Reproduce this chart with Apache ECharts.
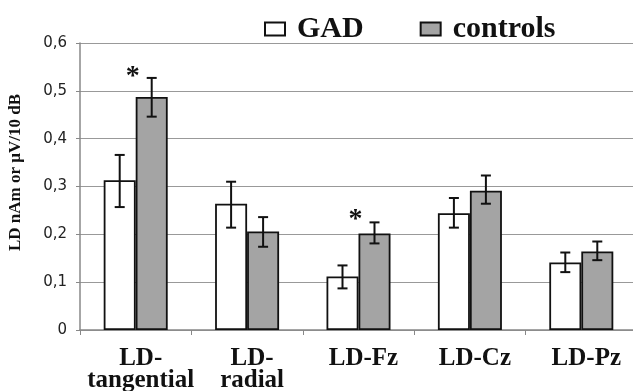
<!DOCTYPE html>
<html>
<head>
<meta charset="utf-8">
<script src="https://cdn.jsdelivr.net/npm/echarts@6/dist/echarts.min.js"></script>
<style>
  html, body { margin: 0; padding: 0; background: #fff; }
  #chart { width: 633px; height: 391px; }
</style>
</head>
<body>
<div id="chart"></div>
<script>
  // categories and values
  var categories = ['LD-\ntangential', 'LD-\nradial', 'LD-Fz', 'LD-Cz', 'LD-Pz'];
  var gadValues = [0.313, 0.264, 0.112, 0.244, 0.141];
  var gadLow = [0.257, 0.214, 0.087, 0.214, 0.121];
  var gadHigh = [0.366, 0.310, 0.135, 0.276, 0.162];
  var ctrlValues = [0.487, 0.206, 0.202, 0.291, 0.164];
  var ctrlLow = [0.446, 0.174, 0.181, 0.264, 0.146];
  var ctrlHigh = [0.527, 0.236, 0.225, 0.323, 0.185];
  // significance stars: [category index, height]
  var stars = [[0, 0.54], [2, 0.24]];
  var yTicks = [0, 0.1, 0.2, 0.3, 0.4, 0.5, 0.6];

  var serif = '"Liberation Serif", "Times New Roman", serif';
  var barW = 32;

  function errData(lo, hi) {
    return lo.map(function (v, i) { return [i, v, hi[i]]; });
  }

  function errRender(shift) {
    return function (params, api) {
      var i = api.value(0);
      var p1 = api.coord([i, api.value(1)]);
      var p2 = api.coord([i, api.value(2)]);
      var x = p1[0] + shift;
      var cap = 5;
      var st = { stroke: '#111', lineWidth: 2 };
      return {
        type: 'group',
        children: [
          { type: 'line', shape: { x1: x, y1: p1[1], x2: x, y2: p2[1] }, style: st },
          { type: 'line', shape: { x1: x - cap, y1: p1[1], x2: x + cap, y2: p1[1] }, style: st },
          { type: 'line', shape: { x1: x - cap, y1: p2[1], x2: x + cap, y2: p2[1] }, style: st }
        ]
      };
    };
  }

  var chart = echarts.init(document.getElementById('chart'));
  chart.setOption({
    backgroundColor: '#fff',
    animation: false,
    grid: { left: 80, top: 43, width: 557, bottom: 61, outerBoundsMode: 'none' },
    legend: {
      data: ['GAD', 'controls'],
      icon: 'rect',
      left: 259,
      top: 9,
      itemWidth: 20,
      itemHeight: 13,
      itemGap: 56,
      textStyle: {
        fontFamily: serif,
        fontWeight: 'bold',
        fontSize: 30,
        color: '#111',
        padding: [0, 0, 0, 7]
      }
    },
    xAxis: {
      type: 'category',
      data: categories,
      axisLine: { lineStyle: { color: '#888', width: 1.5 } },
      axisTick: { show: true, length: 5, lineStyle: { color: '#888' } },
      axisLabel: {
        interval: 0,
        margin: 18,
        fontFamily: serif,
        fontWeight: 'bold',
        fontSize: 25,
        lineHeight: 22,
        color: '#111',
        padding: [0, 0, 0, 10]
      }
    },
    yAxis: {
      type: 'value',
      min: 0,
      max: 0.6,
      interval: 0.1,
      name: 'LD nAm or μV/10 dB',
      nameLocation: 'middle',
      nameGap: 56,
      nameTextStyle: {
        fontFamily: serif,
        fontWeight: 'bold',
        fontSize: 17,
        color: '#111',
        padding: [0, 0, 0, 28]
      },
      axisLine: { show: true, lineStyle: { color: '#888', width: 1.5 } },
      axisTick: { show: true, length: 4, lineStyle: { color: '#888' } },
      splitLine: { lineStyle: { color: '#999', width: 1.2 } },
      axisLabel: {
        margin: 13,
        fontFamily: '"DejaVu Sans", Verdana, sans-serif',
        fontSize: 15,
        color: '#222',
        formatter: function (v) {
          var t = yTicks.find(function (k) { return Math.abs(k - v) < 1e-9; });
          return t === 0 ? '0' : String(+v.toFixed(1)).replace('.', ',');
        }
      }
    },
    series: [
      {
        name: 'GAD',
        type: 'bar',
        data: gadValues,
        barWidth: barW,
        barGap: '0%',
        itemStyle: { color: '#fff', borderColor: '#111', borderWidth: 1.8 }
      },
      {
        name: 'controls',
        type: 'bar',
        data: ctrlValues,
        barWidth: barW,
        barGap: '0%',
        itemStyle: { color: '#a4a4a4', borderColor: '#111', borderWidth: 1.8 }
      },
      {
        type: 'custom',
        data: errData(gadLow, gadHigh),
        renderItem: errRender(-barW / 2),
        z: 5
      },
      {
        type: 'custom',
        data: errData(ctrlLow, ctrlHigh),
        renderItem: errRender(barW / 2),
        z: 5
      },
      {
        type: 'custom',
        data: stars,
        z: 6,
        renderItem: function (params, api) {
          var p = api.coord([api.value(0), api.value(1)]);
          return {
            type: 'text',
            style: {
              x: p[0] - 3,
              y: p[1] + 5,
              text: '*',
              fontFamily: serif,
              fontWeight: 'bold',
              fontSize: 28,
              fill: '#111',
              align: 'center',
              verticalAlign: 'middle'
            }
          };
        }
      }
    ]
  });
</script>
</body>
</html>
